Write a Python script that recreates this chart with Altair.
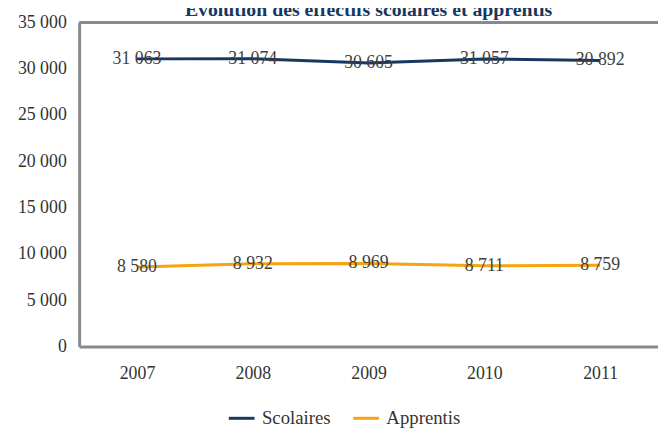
import altair as alt
import pandas as pd

# ---- data ----
title_text = "Évolution des effectifs scolaires et apprentis"
years = ["2007", "2008", "2009", "2010", "2011"]
series_names = ["Scolaires", "Apprentis"]
scolaires = [31063, 31074, 30605, 31057, 30892]
apprentis = [8580, 8932, 8969, 8711, 8759]
y_ticks = [0, 5000, 10000, 15000, 20000, 25000, 30000, 35000]
series_colors = ["#17375E", "#F5A30F"]

rows = []
for name, vals in zip(series_names, [scolaires, apprentis]):
    for yr, v in zip(years, vals):
        rows.append({"annee": yr, "serie": name, "valeur": v,
                     "label": f"{v:,}".replace(",", " ")})
df = pd.DataFrame(rows)

FONT = "Liberation Serif"
GRAY = "#8a8a8a"
W, H = 586, 328

x_enc = alt.X("annee:O", title=None,
              axis=alt.Axis(labelAngle=0, labelFont=FONT, labelFontSize=18,
                            labelColor="#333333", ticks=False, domain=True,
                            domainColor=GRAY, domainWidth=3, labelPadding=18))
y_enc = alt.Y("valeur:Q", title=None,
              scale=alt.Scale(domain=[0, 35000], nice=False, zero=True),
              axis=alt.Axis(values=y_ticks, labelFont=FONT, labelFontSize=18,
                            labelColor="#333333", ticks=False, grid=False,
                            domain=True, domainColor=GRAY, domainWidth=3,
                            labelPadding=13,
                            labelExpr="replace(format(datum.value, ','), ',', ' ')"))

base = alt.Chart(df).encode(x=x_enc, y=y_enc)

lines = base.mark_line(strokeWidth=3).encode(
    color=alt.Color("serie:N",
                    scale=alt.Scale(domain=series_names, range=series_colors),
                    legend=alt.Legend(title=None, orient="none", direction="horizontal",
                                      legendX=150, legendY=386,
                                      symbolType="stroke", symbolSize=676,
                                      symbolStrokeWidth=3, labelFont=FONT,
                                      labelFontSize=19, labelColor="#333333",
                                      labelOffset=6, columnPadding=16,
                                      padding=0, offset=0))
)

labels = base.mark_text(font=FONT, fontSize=18, color="#404040",
                        align="center", baseline="middle").encode(text="label:N")

top_border = alt.Chart(pd.DataFrame({"t": [0]})).mark_rule(
    color=GRAY, strokeWidth=3).encode(
    x=alt.value(0), x2=alt.value(W), y=alt.value(0))

title_layer = alt.Chart(pd.DataFrame({"t": [title_text]})).mark_text(
    font=FONT, fontSize=20, fontWeight="bold", color="#17375E",
    align="center", baseline="alphabetic").encode(
    text="t:N", x=alt.value(W / 2), y=alt.value(-6))

chart = alt.layer(lines, labels, top_border, title_layer).properties(
    width=W, height=H,
    autosize=alt.AutoSizeParams(type="none"),
    padding={"left": 72, "top": 12, "right": 0, "bottom": 81},
).configure_view(stroke=None)

chart.save("out.html", embed_options={"renderer": "svg", "actions": False})
